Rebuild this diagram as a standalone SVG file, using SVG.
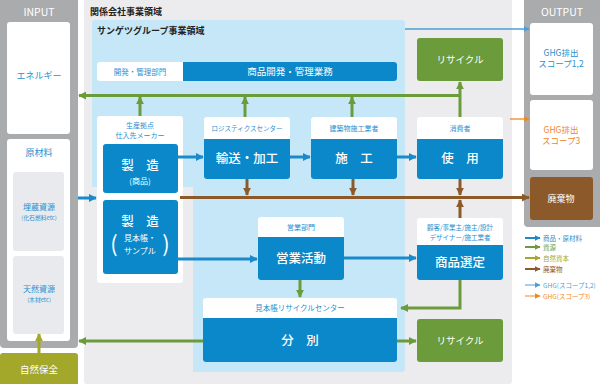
<svg xmlns="http://www.w3.org/2000/svg" width="600" height="384" viewBox="0 0 600 384">
<style>
text{font-family:"Noto Sans CJK JP","Noto Sans",sans-serif;text-anchor:middle}
.hd{font-size:10.5px;fill:#fff}
.ttl{font-size:9px;font-weight:bold;fill:#222;text-anchor:start}
.lb{font-size:7px;fill:#2a8fd0}
.lbs{font-size:6.5px;fill:#2a8fd0}
.lbm{font-size:9px;fill:#2a8fd0}
.lbr{font-size:8px;fill:#2a8fd0}
.sm{font-size:5.8px;fill:#2a8fd0}
.bw{font-size:12.5px;font-weight:500;fill:#fff}
.mw{font-size:9.5px;fill:#fff}
.sw{font-size:8px;fill:#fff}
.or{font-size:8.5px;fill:#f0871f}
.lg{font-size:6.5px;text-anchor:start}
.wb{fill:#fff}
.bb{fill:#0b88c9}
.gb{fill:#6c9b3c}
.ln{fill:none;stroke-width:3}
.cb{stroke:#1a8acb}
.cg{stroke:#6c9b3c}
.cr{stroke:#8c5a2a}
.co{stroke:#a3a82a}
</style>
<defs>
<marker id="ab" viewBox="0 0 10 10" refX="9" refY="5" markerWidth="8" markerHeight="8" markerUnits="userSpaceOnUse" orient="auto"><path d="M0,0 L10,5 L0,10 z" fill="#1a8acb"/></marker>
<marker id="ag" viewBox="0 0 10 10" refX="9" refY="5" markerWidth="8" markerHeight="8" markerUnits="userSpaceOnUse" orient="auto"><path d="M0,0 L10,5 L0,10 z" fill="#6c9b3c"/></marker>
<marker id="ar" viewBox="0 0 10 10" refX="9" refY="5" markerWidth="8" markerHeight="8" markerUnits="userSpaceOnUse" orient="auto"><path d="M0,0 L10,5 L0,10 z" fill="#8c5a2a"/></marker>
<marker id="ao" viewBox="0 0 10 10" refX="9" refY="5" markerWidth="8" markerHeight="8" markerUnits="userSpaceOnUse" orient="auto"><path d="M0,0 L10,5 L0,10 z" fill="#a3a82a"/></marker>
<marker id="at" viewBox="0 0 10 10" refX="9" refY="5" markerWidth="6" markerHeight="6" markerUnits="userSpaceOnUse" orient="auto"><path d="M0,0 L10,5 L0,10 z" fill="#4a9fd8"/></marker>
<marker id="aq" viewBox="0 0 10 10" refX="9" refY="5" markerWidth="6" markerHeight="6" markerUnits="userSpaceOnUse" orient="auto"><path d="M0,0 L10,5 L0,10 z" fill="#f0871f"/></marker>
<marker id="lb" viewBox="0 0 10 10" refX="9" refY="5" markerWidth="6" markerHeight="6" markerUnits="userSpaceOnUse" orient="auto"><path d="M0,0 L10,5 L0,10 z" fill="#1a8acb"/></marker>
<marker id="lgm" viewBox="0 0 10 10" refX="9" refY="5" markerWidth="6" markerHeight="6" markerUnits="userSpaceOnUse" orient="auto"><path d="M0,0 L10,5 L0,10 z" fill="#6c9b3c"/></marker>
<marker id="lo" viewBox="0 0 10 10" refX="9" refY="5" markerWidth="6" markerHeight="6" markerUnits="userSpaceOnUse" orient="auto"><path d="M0,0 L10,5 L0,10 z" fill="#a3a82a"/></marker>
<marker id="lr" viewBox="0 0 10 10" refX="9" refY="5" markerWidth="6" markerHeight="6" markerUnits="userSpaceOnUse" orient="auto"><path d="M0,0 L10,5 L0,10 z" fill="#8c5a2a"/></marker>
</defs>
<rect width="600" height="384" fill="#fff"/>

<g id="area-kankei">
<rect x="84" y="-4" width="428" height="388" rx="3" fill="#ececee"/>
<text x="90" y="15" class="ttl">関係会社事業領域</text>
</g>
<g id="area-sangetsu">
<path d="M95,20 H402 a3,3 0 0 1 3,3 V369 a3,3 0 0 1 -3,3 H193 V187 H92 V23 a3,3 0 0 1 3,-3 z" fill="#c6e7f8"/>
<text x="97" y="34" class="ttl">サンゲツグループ事業領域</text>
</g>

<g id="input">
<rect x="0" y="-4" width="78" height="352" rx="4" fill="#aaabad"/>
<text x="39" y="16" class="hd">INPUT</text>
<rect x="7" y="22" width="63" height="112" rx="3" class="wb"/>
<text x="39" y="79" class="lbm">エネルギー</text>
<rect x="7" y="139" width="63" height="202" rx="3" class="wb"/>
<text x="39" y="156" class="lbm">原材料</text>
<rect x="13" y="172" width="51" height="79" rx="3" fill="#e8eaee"/>
<text x="39" y="210" class="lbr">埋蔵資源</text>
<text x="39" y="220" class="sm">(化石燃料etc)</text>
<rect x="13" y="256" width="51" height="78" rx="3" fill="#e8eaee"/>
<text x="39" y="292" class="lbr">天然資源</text>
<text x="39" y="302" class="sm">(木材etc)</text>
</g>
<g id="shizen">
<rect x="0" y="353" width="78" height="34" rx="3" fill="#a3a82a"/>
<text x="39" y="373" class="mw">自然保全</text>
</g>

<g id="output">
<rect x="524" y="-4" width="80" height="231" rx="4" fill="#aaabad"/>
<text x="562" y="16" class="hd">OUTPUT</text>
<rect x="530" y="23" width="63" height="72" rx="3" class="wb"/>
<text x="561" y="56" class="lbr" style="font-size:8.5px">GHG排出</text>
<text x="561" y="67" class="lbr" style="font-size:8.5px">スコープ1,2</text>
<rect x="530" y="100" width="63" height="70" rx="3" class="wb"/>
<text x="561" y="133" class="or">GHG排出</text>
<text x="561" y="144" class="or">スコープ3</text>
<rect x="530" y="177" width="63" height="43" rx="3" fill="#8c5a2a"/>
<text x="561" y="202" class="mw" style="font-size:9px">廃棄物</text>
</g>

<g id="kaihatsu">
<rect x="97" y="62" width="300" height="19" rx="3" class="wb"/>
<path d="M183,62 H394 a3,3 0 0 1 3,3 V78 a3,3 0 0 1 -3,3 H183 z" class="bb"/>
<text x="140" y="74.5" class="lb" style="font-size:7.5px">開発・管理部門</text>
<text x="290" y="75" class="mw">商品開発・管理業務</text>
</g>

<g id="recycle-top">
<rect x="417" y="38" width="86" height="43" rx="3" class="gb"/>
<text x="460" y="63" class="mw">リサイクル</text>
</g>

<g id="seisan">
<rect x="97" y="116" width="86" height="167" rx="3" class="wb"/>
<text x="140" y="128" class="lb">生産拠点</text>
<text x="140" y="138" class="lb">仕入先メーカー</text>
<rect x="103" y="144" width="75" height="49" rx="3" class="bb"/>
<text x="140" y="170" class="bw">製　造</text>
<text x="140" y="184" class="sw">(商品)</text>
<rect x="103" y="200" width="75" height="74" rx="3" class="bb"/>
<text x="140" y="226" class="bw">製　造</text>
<text x="140" y="241" class="sw">見本帳・</text>
<text x="140" y="254" class="sw">サンプル</text>
<text x="114" y="252" class="bw" style="font-size:22px;font-weight:normal">(</text>
<text x="166" y="252" class="bw" style="font-size:22px;font-weight:normal">)</text>
</g>

<g id="logi">
<rect x="204" y="117" width="86" height="62" rx="3" class="wb"/>
<text x="247" y="130.5" class="lbs">ロジスティクスセンター</text>
<path d="M204,139 H290 V176 a3,3 0 0 1 -3,3 H207 a3,3 0 0 1 -3,-3 z" class="bb"/>
<text x="247" y="163" class="bw">輸送・加工</text>
</g>

<g id="sekou">
<rect x="311" y="117" width="86" height="62" rx="3" class="wb"/>
<text x="354" y="130.5" class="lb">建築物施工業者</text>
<path d="M311,139 H397 V176 a3,3 0 0 1 -3,3 H314 a3,3 0 0 1 -3,-3 z" class="bb"/>
<text x="354" y="163" class="bw">施　工</text>
</g>

<g id="shouhi">
<rect x="417" y="117" width="86" height="62" rx="3" class="wb"/>
<text x="460" y="130.5" class="lb">消費者</text>
<path d="M417,139 H503 V176 a3,3 0 0 1 -3,3 H420 a3,3 0 0 1 -3,-3 z" class="bb"/>
<text x="460" y="163" class="bw">使　用</text>
</g>

<g id="eigyo">
<rect x="258" y="217" width="86" height="63" rx="3" class="wb"/>
<text x="301" y="229.5" class="lb">営業部門</text>
<path d="M258,237 H344 V277 a3,3 0 0 1 -3,3 H261 a3,3 0 0 1 -3,-3 z" class="bb"/>
<text x="301" y="263" class="bw">営業活動</text>
</g>

<g id="kokyaku">
<rect x="417" y="218" width="86" height="62" rx="3" class="wb"/>
<text x="460" y="229.5" class="lbs">顧客/事業主/施主/設計</text>
<text x="460" y="240" class="lbs">デザイナー/施工業者</text>
<path d="M417,245 H503 V277 a3,3 0 0 1 -3,3 H420 a3,3 0 0 1 -3,-3 z" class="bb"/>
<text x="460" y="267" class="bw">商品選定</text>
</g>

<g id="mihon-center">
<rect x="203" y="298" width="194" height="64" rx="3" class="wb"/>
<text x="300" y="311" class="lb" style="font-size:7.5px">見本帳リサイクルセンター</text>
<path d="M203,318 H397 V359 a3,3 0 0 1 -3,3 H206 a3,3 0 0 1 -3,-3 z" class="bb"/>
<text x="300" y="345" class="bw">分　別</text>
</g>

<g id="recycle-bottom">
<rect x="417" y="319" width="86" height="43" rx="3" class="gb"/>
<text x="460" y="344" class="mw">リサイクル</text>
</g>

<g id="connectors">
<path class="ln cb" d="M78,198 H96" marker-end="url(#ab)"/>
<path class="ln cb" d="M178,157 H203" marker-end="url(#ab)"/>
<path class="ln cb" d="M290,157 H310" marker-end="url(#ab)"/>
<path class="ln cb" d="M397,157 H416" marker-end="url(#ab)"/>
<path class="ln cb" d="M178,259 H257" marker-end="url(#ab)"/>
<path class="ln cb" d="M344,258 H416" marker-end="url(#ab)"/>
<path fill="none" stroke="#4a9fd8" stroke-width="1.3" d="M405,29 H529" marker-end="url(#at)"/>
<path fill="none" stroke="#f0871f" stroke-width="1.3" d="M510,119 H529" marker-end="url(#aq)"/>
<path class="ln cg" d="M460,95.5 H79" marker-end="url(#ag)"/>
<path class="ln cg" d="M460,117 V82" marker-end="url(#ag)"/>
<path class="ln cg" d="M140,116 V97" marker-end="url(#ag)"/>
<path class="ln cg" d="M245,117 V97" marker-end="url(#ag)"/>
<path class="ln cg" d="M352,117 V97" marker-end="url(#ag)"/>
<path class="ln cg" d="M300,280 V297" marker-end="url(#ag)"/>
<path class="ln cg" d="M460,280 V308 H401" marker-end="url(#ag)"/>
<path class="ln cg" d="M203,341 H79" marker-end="url(#ag)"/>
<path class="ln cg" d="M397,341 H416" marker-end="url(#ag)"/>
<path class="ln cr" d="M247,179 V195" marker-end="url(#ar)"/>
<path class="ln cr" d="M353,179 V195" marker-end="url(#ar)"/>
<path class="ln cr" d="M460,179 V195" marker-end="url(#ar)"/>
<path class="ln cr" d="M460,218 V200" marker-end="url(#ar)"/>
<path class="ln cr" d="M180,197.5 H529" marker-end="url(#ar)"/>
<path class="ln co" d="M39,353 V334" marker-end="url(#ao)"/>
</g>

<g id="legend">
<path class="ln cb" style="stroke-width:2" d="M525,238 H540" marker-end="url(#lb)"/>
<text x="543" y="240.5" class="lg" fill="#2a8fd0">商品・原材料</text>
<path class="ln cg" style="stroke-width:2" d="M525,247 H540" marker-end="url(#lgm)"/>
<text x="543" y="249.5" class="lg" fill="#6c9b3c">資源</text>
<path class="ln co" style="stroke-width:2" d="M525,258 H540" marker-end="url(#lo)"/>
<text x="543" y="260.5" class="lg" fill="#a3a82a">自然資本</text>
<path class="ln cr" style="stroke-width:2" d="M525,269 H540" marker-end="url(#lr)"/>
<text x="543" y="271.5" class="lg" fill="#8c5a2a">廃棄物</text>
<path fill="none" stroke="#4a9fd8" stroke-width="1" d="M525,285 H540" marker-end="url(#at)"/>
<text x="543" y="287.5" class="lg" fill="#4a9fd8">GHG(スコープ1,2)</text>
<path fill="none" stroke="#f0871f" stroke-width="1" d="M525,296 H540" marker-end="url(#aq)"/>
<text x="543" y="298.5" class="lg" fill="#f0871f">GHG(スコープ3)</text>
</g>
</svg>
